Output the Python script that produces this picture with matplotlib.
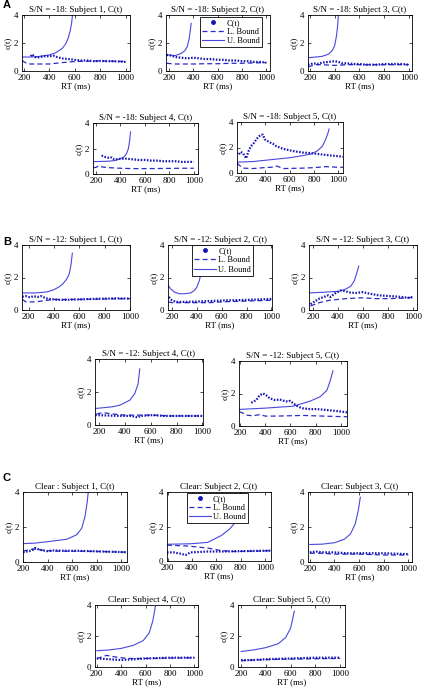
import matplotlib
matplotlib.use("Agg")
import matplotlib.pyplot as plt
from matplotlib.lines import Line2D

plt.rcParams['font.family'] = ['Liberation Serif', 'DejaVu Serif']

# ---------------- DATA ----------------
TICKS_X = [200, 400, 600, 800, 1000]
TICKS_Y = [0, 2, 4]

# Panel A (S/N = -18)
A1_ct_t = [255, 265, 280, 300, 330, 360, 400, 430, 460, 500, 550, 600, 650, 700, 750, 800, 850, 900, 950, 1000]
A1_ct = [1.05, 1.2, 1.05, 0.95, 1.0, 1.05, 1.05, 1.1, 1.0, 0.9, 0.85, 0.8, 0.75, 0.75, 0.7, 0.72, 0.7, 0.7, 0.68, 0.65]
A1_lb_t = [185, 220, 250, 300, 400, 500, 600, 700, 800, 900, 1000]
A1_lb = [0.75, 0.55, 0.5, 0.5, 0.5, 0.6, 0.68, 0.7, 0.72, 0.7, 0.68]
A1_ub_t = [185, 250, 300, 350, 400, 450, 500, 530, 550, 565, 575, 585]
A1_ub = [1.0, 1.0, 1.02, 1.08, 1.15, 1.3, 1.6, 1.95, 2.4, 2.9, 3.4, 4.2]

A2_ct_t = [180, 220, 250, 300, 350, 400, 450, 500, 550, 600, 650, 700, 750, 800, 850, 900, 950, 1000]
A2_ct = [1.15, 1.1, 1.0, 0.95, 0.9, 0.95, 0.9, 0.85, 0.85, 0.8, 0.8, 0.75, 0.75, 0.7, 0.7, 0.65, 0.65, 0.6]
A2_lb_t = [180, 250, 300, 400, 500, 600, 700, 800, 900, 1000]
A2_lb = [0.55, 0.5, 0.5, 0.5, 0.52, 0.52, 0.55, 0.55, 0.58, 0.6]
A2_ub_t = [180, 250, 300, 330, 350, 365, 375, 382]
A2_ub = [1.15, 1.1, 1.25, 1.45, 1.75, 2.3, 2.9, 3.4]

A3_ct_t = [185, 230, 260, 300, 350, 400, 430, 460, 500, 550, 600, 650, 700, 750, 800, 850, 900, 950, 1000]
A3_ct = [0.45, 0.55, 0.5, 0.6, 0.65, 0.7, 0.65, 0.55, 0.55, 0.5, 0.5, 0.45, 0.45, 0.45, 0.5, 0.5, 0.5, 0.5, 0.45]
A3_lb_t = [185, 250, 300, 400, 500, 600, 800, 1000]
A3_lb = [0.3, 0.45, 0.45, 0.4, 0.45, 0.45, 0.45, 0.45]
A3_ub_t = [185, 250, 300, 350, 380, 400, 415, 425, 432]
A3_ub = [0.95, 1.0, 1.05, 1.2, 1.45, 1.8, 2.5, 3.3, 4.2]

A4_ct_t = [245, 270, 290, 310, 330, 350, 380, 400, 450, 500, 550, 600, 650, 700, 750, 800, 850, 900, 950, 1000]
A4_ct = [1.45, 1.35, 1.3, 1.25, 1.3, 1.15, 1.15, 1.2, 1.2, 1.15, 1.1, 1.1, 1.05, 1.05, 1.0, 1.0, 1.0, 0.95, 0.95, 0.95]
A4_lb_t = [180, 200, 220, 250, 300, 400, 500, 600, 700, 800, 900, 1000]
A4_lb = [0.5, 0.52, 0.65, 0.55, 0.5, 0.45, 0.42, 0.42, 0.43, 0.44, 0.45, 0.45]
A4_ub_t = [175, 300, 350, 400, 430, 450, 465, 475, 482]
A4_ub = [0.97, 1.0, 1.05, 1.2, 1.35, 1.6, 2.0, 2.6, 3.3]

A5_ct_t = [180, 195, 215, 240, 260, 280, 300, 330, 350, 365, 380, 393, 435, 460, 490, 545, 627, 710, 760, 850, 930, 1000, 1040]
A5_ct = [1.47, 1.65, 1.55, 1.15, 1.7, 2.1, 2.3, 2.7, 2.9, 3.0, 3.0, 2.65, 2.4, 2.3, 2.1, 1.9, 1.72, 1.6, 1.57, 1.47, 1.38, 1.32, 1.27]
A5_lb_t = [165, 215, 300, 400, 450, 490, 550, 700, 800, 900, 1000, 1040]
A5_lb = [0.76, 0.38, 0.35, 0.43, 0.45, 0.55, 0.35, 0.38, 0.42, 0.5, 0.45, 0.45]
A5_ub_t = [165, 300, 400, 500, 600, 700, 780, 830, 870, 895, 915, 925]
A5_ub = [0.85, 0.9, 1.0, 1.1, 1.2, 1.35, 1.5, 1.75, 2.1, 2.6, 3.1, 3.45]

# Panel B (S/N = -12)
B1_ct_t = [150, 180, 210, 240, 270, 300, 338, 370, 400, 450, 500, 550, 600, 700, 800, 900, 1000]
B1_ct = [0.82, 0.85, 0.78, 0.85, 0.8, 0.85, 0.72, 0.68, 0.65, 0.62, 0.62, 0.65, 0.65, 0.68, 0.7, 0.72, 0.7]
B1_lb_t = [150, 180, 250, 300, 350, 400, 500, 600, 800, 1000]
B1_lb = [0.65, 0.5, 0.5, 0.55, 0.6, 0.65, 0.65, 0.65, 0.68, 0.7]
B1_ub_t = [150, 250, 300, 350, 400, 440, 470, 500, 520, 535, 545]
B1_ub = [1.05, 1.05, 1.08, 1.12, 1.25, 1.42, 1.6, 1.9, 2.2, 2.8, 3.5]

B2_ct_t = [175, 200, 230, 300, 400, 500, 600, 700, 800, 900, 1000]
B2_ct = [0.8, 0.6, 0.5, 0.5, 0.52, 0.55, 0.58, 0.6, 0.62, 0.65, 0.68]
B2_lb_t = [170, 200, 300, 400, 500, 600, 800, 1000]
B2_lb = [0.5, 0.45, 0.45, 0.45, 0.45, 0.5, 0.55, 0.6]
B2_ub_t = [170, 190, 220, 260, 300, 350, 380, 400, 420, 440, 455, 465]
B2_ub = [1.5, 1.3, 1.1, 1.0, 1.0, 1.05, 1.2, 1.4, 1.8, 2.5, 3.2, 4.2]

B3_ct_t = [180, 250, 320, 340, 370, 423, 462, 500, 540, 600, 655, 725, 830, 910, 960, 1000]
B3_ct = [0.36, 0.7, 0.9, 0.8, 1.0, 1.2, 1.15, 1.07, 1.05, 1.1, 1.0, 0.9, 0.85, 0.8, 0.75, 0.8]
B3_lb_t = [180, 250, 330, 400, 462, 590, 700, 800, 900, 1000]
B3_lb = [0.25, 0.45, 0.6, 0.65, 0.7, 0.75, 0.7, 0.7, 0.72, 0.78]
B3_ub_t = [170, 300, 400, 450, 500, 530, 550, 565]
B3_ub = [1.05, 1.1, 1.15, 1.25, 1.45, 1.8, 2.3, 2.7]

B4_ct_t = [170, 250, 360, 450, 497, 520, 618, 700, 800, 900, 1000]
B4_ct = [0.6, 0.58, 0.55, 0.55, 0.46, 0.55, 0.6, 0.55, 0.55, 0.55, 0.55]
B4_lb_t = [180, 230, 300, 400, 500, 618, 750, 1000]
B4_lb = [0.67, 0.75, 0.67, 0.6, 0.6, 0.6, 0.55, 0.55]
B4_ub_t = [170, 300, 360, 437, 476, 502, 515]
B4_ub = [1.0, 1.1, 1.2, 1.5, 1.9, 2.5, 3.4]

B5_ct_t = [288, 328, 355, 382, 405, 435, 475, 515, 556, 582, 596, 622, 662, 703, 756, 810, 890, 970, 1050]
B5_ct = [1.43, 1.6, 1.9, 2.0, 1.9, 1.7, 1.6, 1.63, 1.53, 1.5, 1.55, 1.4, 1.18, 1.08, 1.04, 1.04, 0.98, 0.92, 0.84]
B5_lb_t = [192, 221, 248, 300, 355, 400, 489, 700, 900, 1050]
B5_lb = [0.88, 0.8, 0.67, 0.63, 0.7, 0.61, 0.61, 0.65, 0.6, 0.57]
B5_ub_t = [190, 400, 622, 756, 836, 890, 917, 938]
B5_ub = [1.02, 1.1, 1.22, 1.53, 1.8, 2.2, 2.8, 3.4]

# Panel C (Clear)
C1_ct_t = [200, 250, 286, 300, 330, 394, 450, 550, 650, 750, 850, 950, 1040]
C1_ct = [0.56, 0.62, 0.71, 0.8, 0.71, 0.62, 0.66, 0.64, 0.64, 0.62, 0.6, 0.58, 0.56]
C1_lb_t = [200, 286, 350, 450, 600, 800, 1040]
C1_lb = [0.62, 0.75, 0.68, 0.62, 0.62, 0.6, 0.56]
C1_ub_t = [200, 300, 421, 556, 637, 677, 704, 723, 731]
C1_ub = [1.05, 1.08, 1.18, 1.3, 1.56, 1.93, 2.6, 3.5, 4.1]

C2_ct_t = [195, 250, 300, 348, 390, 450, 530, 650, 800, 1050]
C2_ct = [0.5, 0.5, 0.43, 0.35, 0.5, 0.52, 0.55, 0.55, 0.57, 0.6]
C2_lb_t = [195, 362, 530, 642, 750, 900, 1050]
C2_lb = [0.92, 0.87, 0.75, 0.6, 0.55, 0.57, 0.6]
C2_ub_t = [195, 390, 530, 642, 712, 748, 770, 790, 805]
C2_ub = [0.97, 1.0, 1.08, 1.48, 1.87, 2.17, 2.7, 3.4, 4.2]

C3_ct_t = [200, 250, 300, 400, 500, 600, 800, 1000]
C3_ct = [0.55, 0.6, 0.55, 0.55, 0.5, 0.5, 0.5, 0.45]
C3_lb_t = [200, 300, 400, 600, 800, 1000]
C3_lb = [0.5, 0.5, 0.45, 0.45, 0.4, 0.4]
C3_ub_t = [200, 300, 400, 480, 530, 570, 595, 610]
C3_ub = [1.0, 1.02, 1.1, 1.3, 1.6, 2.2, 3.0, 3.7]

C4_ct_t = [200, 300, 400, 500, 600, 800, 1000]
C4_ct = [0.55, 0.5, 0.45, 0.5, 0.55, 0.6, 0.6]
C4_lb_t = [200, 280, 350, 450, 600, 1000]
C4_lb = [0.55, 0.75, 0.65, 0.55, 0.55, 0.6]
C4_ub_t = [200, 300, 400, 500, 580, 630, 660, 680]
C4_ub = [1.05, 1.1, 1.2, 1.4, 1.7, 2.2, 3.0, 3.9]

C5_ct_t = [200, 300, 400, 600, 800, 1000]
C5_ct = [0.45, 0.45, 0.5, 0.55, 0.6, 0.6]
C5_lb_t = [200, 300, 500, 1000]
C5_lb = [0.4, 0.45, 0.5, 0.55]
C5_ub_t = [200, 300, 400, 500, 560, 600, 620, 630]
C5_ub = [1.0, 1.1, 1.25, 1.5, 1.9, 2.5, 3.2, 3.6]

TITLES = {
    'A1': 'S/N = -18: Subject 1, C(t)', 'A2': 'S/N = -18: Subject 2, C(t)',
    'A3': 'S/N = -18: Subject 3, C(t)', 'A4': 'S/N = -18: Subject 4, C(t)',
    'A5': 'S/N = -18: Subject 5, C(t)',
    'B1': 'S/N = -12: Subject 1, C(t)', 'B2': 'S/N = -12: Subject 2, C(t)',
    'B3': 'S/N = -12: Subject 3, C(t)', 'B4': 'S/N = -12: Subject 4, C(t)',
    'B5': 'S/N = -12: Subject 5, C(t)',
    'C1': 'Clear : Subject 1, C(t)', 'C2': 'Clear: Subject 2, C(t)',
    'C3': 'Clear: Subject 3, C(t)', 'C4': 'Clear: Subject 4, C(t)',
    'C5': 'Clear: Subject 5, C(t)',
}
LEGEND_LABELS = ['C(t)', 'L. Bound', 'U. Bound']

# ---------------- LAYOUT (pixels: left, top, right, bottom) ----------------
W, H = 427, 700
BOXES = {
    'A1': (22, 15, 130, 71), 'A2': (166, 15, 270, 71), 'A3': (308, 15, 412, 71),
    'A4': (93, 123, 198, 174), 'A5': (237, 122, 343, 173),
    'B1': (22, 245, 130, 310), 'B2': (168, 245, 272, 310), 'B3': (309, 245, 417, 310),
    'B4': (95, 359, 203, 425), 'B5': (239, 361, 347, 426),
    'C1': (23, 492, 127, 562), 'C2': (167, 492, 271, 561), 'C3': (308, 492, 412, 562),
    'C4': (95, 605, 198, 667), 'C5': (238, 605, 345, 667),
}
XLIMS = {
    'A1': (185, 1035), 'A2': (175, 1030), 'A3': (185, 1025), 'A4': (175, 1035), 'A5': (165, 1040),
    'B1': (148, 1000), 'B2': (168, 1005), 'B3': (168, 1030), 'B4': (168, 1005), 'B5': (190, 1050),
    'C1': (200, 1045), 'C2': (195, 1050), 'C3': (185, 1030), 'C4': (185, 1030), 'C5': (175, 1040),
}
LEG_POS = {'A2': (0.33, 0.97), 'B2': (0.23, 1.0), 'C2': (0.19, 0.99)}

CT_COL = '#1414b4'
LB_COL = '#2a2ac8'
UB_COL = '#4848dc'

fig = plt.figure(figsize=(W / 100, H / 100), dpi=100)

data = globals()
for key, (l, t, r, b) in BOXES.items():
    ax = fig.add_axes([l / W, 1 - b / H, (r - l) / W, (b - t) / H])
    ax.plot(data[key + '_ub_t'], data[key + '_ub'], color=UB_COL, lw=0.8)
    ax.plot(data[key + '_lb_t'], data[key + '_lb'], color=LB_COL, lw=0.9, ls=(0, (4, 2.5)))
    ax.plot(data[key + '_ct_t'], data[key + '_ct'], color=CT_COL, lw=1.6,
            ls=(0, (0.7, 0.7)))
    ax.set_xlim(*XLIMS[key])
    ax.set_ylim(0, 4)
    ax.set_xticks(TICKS_X)
    ax.set_yticks(TICKS_Y)
    ax.tick_params(direction='in', length=2, width=0.5, top=True, right=True,
                   labelsize=6.5)
    ax.tick_params(axis='x', pad=2.5)
    ax.tick_params(axis='y', pad=2.5)
    for s in ax.spines.values():
        s.set_linewidth(0.6)
    ax.set_title(TITLES[key], fontsize=6.5, pad=2.5)
    ax.set_xlabel('RT (ms)', fontsize=6.5, labelpad=-0.5)
    ax.set_ylabel('c(t)', fontsize=6.5, labelpad=1)
    if key in LEG_POS:
        handles = [
            Line2D([], [], marker='o', markersize=2.5, ls='none', color=CT_COL),
            Line2D([], [], color=LB_COL, lw=0.9, ls=(0, (4, 2.5))),
            Line2D([], [], color=UB_COL, lw=0.8),
        ]
        leg = ax.legend(handles, LEGEND_LABELS, loc='upper left',
                        bbox_to_anchor=LEG_POS[key], fontsize=6, frameon=True,
                        fancybox=False, edgecolor='black', framealpha=1,
                        borderpad=0.25, labelspacing=0.15, handlelength=2.6,
                        handletextpad=0.3, borderaxespad=0)
        leg.get_frame().set_linewidth(0.6)

for lab, y in (('A', 5), ('B', 242), ('C', 478)):
    fig.text(3 / W, 1 - y / H, lab, fontsize=8, fontweight='bold',
             family=['Liberation Sans', 'DejaVu Sans'], va='center', ha='left')

fig.savefig('out.png', dpi=100)
